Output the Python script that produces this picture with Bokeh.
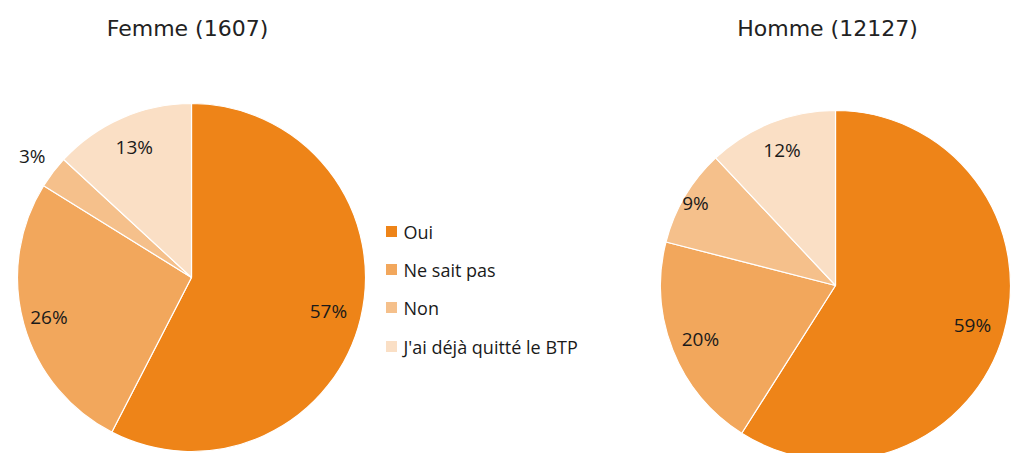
import numpy as np
from bokeh.plotting import figure
from bokeh.models import Range1d, ColumnDataSource
from bokeh.core.properties import value
from bokeh.embed import file_html
from bokeh.resources import INLINE

# ---- data ----
categories = ["Oui", "Ne sait pas", "Non", "J'ai déjà quitté le BTP"]
femme = [57, 26, 3, 13]
homme = [59, 20, 9, 12]
titles = ["Femme (1607)", "Homme (12127)"]
colors = ["#EE8418", "#F2A75C", "#F5C08B", "#FADFC5"]

# ---- layout (styles/positions) ----
W, H = 1011, 453
p = figure(width=W, height=H, output_backend="svg", toolbar_location=None,
           x_range=Range1d(0, W), y_range=Range1d(0, H), min_border=0)
p.axis.visible = False
p.grid.visible = False
p.outline_line_color = None
p.background_fill_color = "white"

pies = [
    dict(values=femme, title=titles[0], cx=191, cy=H - 277, r=174, tx=187,
         lab_r=[0.81, 0.85, 1.15, 0.82]),
    dict(values=homme, title=titles[1], cx=835, cy=H - 285, r=175, tx=827,
         lab_r=[0.815, 0.83, 0.93, 0.83]),
]

for pie in pies:
    vals = np.array(pie["values"], dtype=float)
    frac = vals / vals.sum()
    cum = np.concatenate([[0], np.cumsum(frac)])
    start = np.pi / 2 - 2 * np.pi * cum[:-1]
    end = np.pi / 2 - 2 * np.pi * cum[1:]
    src = ColumnDataSource(dict(start=start, end=end, color=colors,
                                x=[pie["cx"]] * 4, y=[pie["cy"]] * 4))
    p.wedge(x="x", y="y", radius=pie["r"], start_angle="start", end_angle="end",
            direction="clock", fill_color="color", line_color="white",
            line_width=1.2, source=src)
    mid = (start + end) / 2
    lr = np.array(pie["lab_r"]) * pie["r"]
    lx = pie["cx"] + lr * np.cos(mid)
    ly = pie["cy"] + lr * np.sin(mid)
    labels = [f"{int(v)}%" for v in vals]
    p.text(x=lx, y=ly, text=labels, text_align="center", text_baseline="middle",
           text_font=value("Open Sans"), text_font_size="19px", text_color="#1a1a1a")
    p.text(x=[pie["tx"]], y=[H - 28], text=[pie["title"]], text_align="center",
           text_baseline="middle", text_font=value("DejaVu Sans"),
           text_font_size="22px", text_color="#222222")

# legend (manual)
leg_y = [H - 231, H - 269, H - 307, H - 346]
p.rect(x=[391] * 4, y=leg_y, width=11, height=11, fill_color=colors, line_color=None)
p.text(x=[403] * 4, y=leg_y, text=categories, text_align="left",
       text_baseline="middle", text_font=value("Open Sans"),
       text_font_size="18px", text_color="#1a1a1a")

open("out.html", "w").write(file_html(p, INLINE))
